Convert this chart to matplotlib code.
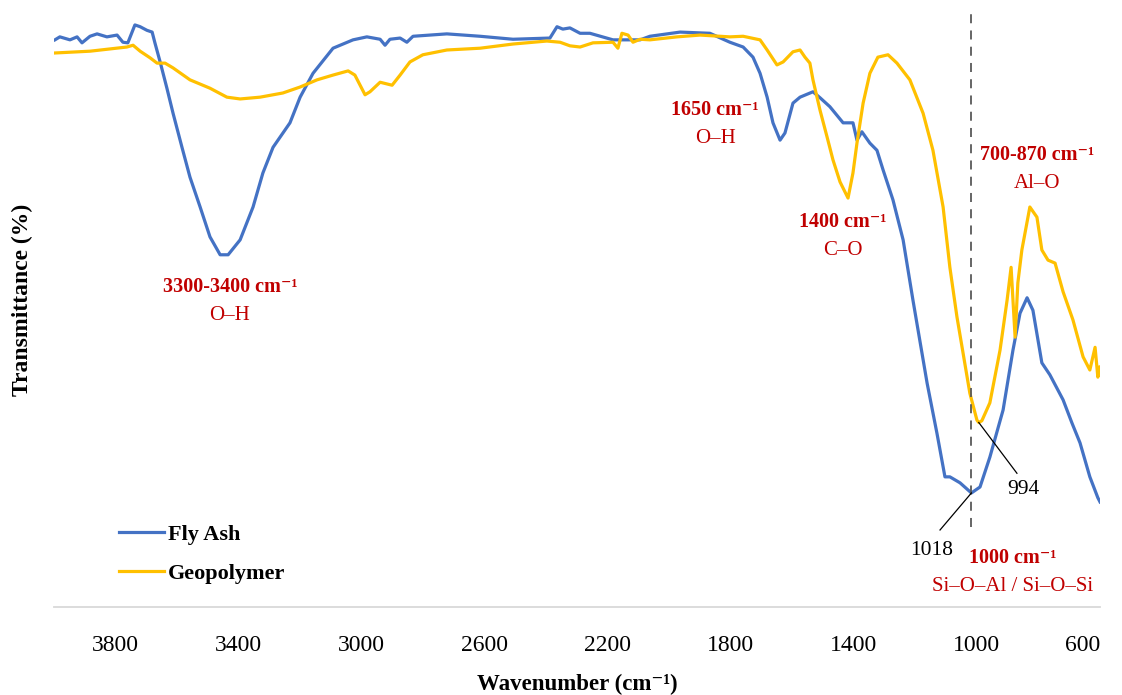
import numpy as np
import matplotlib
matplotlib.use("Agg")
import matplotlib.pyplot as plt

# -------------
# DATA
# -------------
fa_wn = np.array([3997, 3981, 3948, 3925, 3909, 3883, 3860, 3828, 3795, 3776, 3760,
                  3737, 3720, 3698, 3681, 3672, 3655, 3633, 3613, 3584, 3558, 3525,
                  3493, 3460, 3434, 3395, 3353, 3321, 3288, 3233, 3200, 3158, 3093,
                  3028, 2983, 2940, 2924, 2908, 2875, 2853, 2833, 2723, 2615, 2508,
                  2388, 2365, 2346, 2323, 2290, 2258, 2183, 2095, 2063, 1965, 1868,
                  1803, 1760, 1728, 1705, 1682, 1663, 1640, 1624, 1598, 1575, 1533,
                  1510, 1478, 1435, 1403, 1390, 1374, 1348, 1325, 1305, 1273, 1240,
                  1208, 1162, 1130, 1104, 1088, 1055, 1018, 990, 958, 915, 883, 860,
                  837, 818, 789, 763, 720, 691, 665, 633, 607, 600])
fa_t = np.array([95.0, 95.5, 95.0, 95.5, 94.5, 95.6, 96.0, 95.5, 95.8, 94.6, 94.5,
                 97.5, 97.2, 96.6, 96.3, 94.5, 91.3, 86.9, 82.7, 77.0, 72.0, 67.0,
                 62.0, 59.0, 59.0, 61.5, 67.0, 72.7, 77.0, 81.1, 85.4, 89.4, 93.6,
                 95.0, 95.5, 95.1, 94.1, 95.1, 95.3, 94.6, 95.6, 96.0, 95.6, 95.1,
                 95.3, 97.2, 96.8, 97.0, 96.1, 96.1, 95.0, 95.0, 95.6, 96.3, 96.1,
                 94.6, 93.8, 92.1, 89.4, 85.4, 81.1, 78.2, 79.4, 84.4, 85.4, 86.3,
                 85.3, 83.8, 81.1, 81.1, 78.2, 79.6, 77.7, 76.5, 73.2, 68.2, 61.5,
                 51.4, 37.5, 29.1, 21.8, 21.8, 20.8, 19.1, 20.1, 25.1, 33.0, 43.0, 49.2,
                 51.8, 49.7, 40.9, 38.9, 34.7, 30.8, 27.5, 21.8, 18.3, 17.6])

gp_wn = np.array([3997, 3883, 3763, 3743, 3720, 3688, 3665, 3639, 3613, 3558, 3493,
                  3438, 3395, 3330, 3256, 3200, 3145, 3093, 3044, 3022, 2989, 2973,
                  2940, 2901, 2875, 2843, 2801, 2723, 2615, 2508, 2398, 2355, 2323,
                  2290, 2248, 2183, 2167, 2154, 2134, 2118, 2095, 2063, 1975, 1900,
                  1803, 1760, 1705, 1682, 1650, 1630, 1598, 1575, 1559, 1543, 1533,
                  1510, 1487, 1468, 1445, 1419, 1403, 1390, 1370, 1348, 1322, 1289,
                  1260, 1218, 1175, 1143, 1110, 1088, 1065, 1023, 1000, 994, 984, 958,
                  925, 902, 889, 876, 867, 854, 828, 805, 789, 769, 746, 720, 688,
                  655, 633, 616, 607, 600])
gp_t = np.array([92.8, 93.1, 93.8, 94.1, 93.1, 92.0, 91.1, 91.1, 90.3, 88.3, 86.9,
                 85.4, 85.1, 85.4, 86.1, 87.1, 88.3, 89.1, 89.8, 89.1, 85.8, 86.3,
                 87.9, 87.4, 89.1, 91.3, 92.5, 93.3, 93.6, 94.3, 94.8, 94.6, 94.0,
                 93.8, 94.5, 94.6, 93.6, 96.1, 95.8, 94.6, 95.1, 95.0, 95.5, 95.8,
                 95.5, 95.6, 95.0, 93.3, 90.8, 91.3, 93.0, 93.3, 92.1, 91.1, 88.3,
                 83.2, 78.7, 74.9, 71.2, 68.5, 72.7, 77.7, 84.4, 89.4, 92.1, 92.5,
                 91.1, 88.3, 82.7, 76.5, 67.0, 56.9, 48.6, 35.8, 31.3, 30.9, 31.2, 34.2,
                 43.0, 51.4, 56.9, 45.2, 54.3, 59.8, 67.0, 65.3, 59.8, 58.1, 57.6, 52.8,
                 48.1, 41.9, 39.7, 43.5, 38.5, 40.2])

xticks = [3800, 3400, 3000, 2600, 2200, 1800, 1400, 1000, 600]

# peak markers
FA_PEAK, FA_PEAK_T = 1018, 19.1
GP_PEAK, GP_PEAK_T = 994, 30.9

# band annotations: (wavenumber, T, bold label, assignment)
bands = [
    (3428, 53.6, "3300-3400 cm⁻¹", "O–H"),
    (1851, 83.2, "1650 cm⁻¹", "O–H"),
    (1435, 64.5, "1400 cm⁻¹", "C–O"),
    (805, 75.7, "700-870 cm⁻¹", "Al–O"),
    (883, 8.2, "1000 cm⁻¹", "Si–O–Al / Si–O–Si"),
]

# -------------
# STYLE
# -------------
SERIF = ["Liberation Serif", "DejaVu Serif"]
plt.rcParams["font.family"] = SERIF
BLUE = "#4472C4"
GOLD = "#FFC000"
RED = "#C00000"

fig = plt.figure(figsize=(11.22, 6.95), dpi=100)
ax = fig.add_axes([54 / 1122, 88 / 695, 1046 / 1122, 597 / 695])

ax.plot(fa_wn, fa_t, color=BLUE, lw=2.3, label="Fly Ash", solid_joinstyle="round")
ax.plot(gp_wn, gp_t, color=GOLD, lw=2.3, label="Geopolymer", solid_joinstyle="round")

ax.set_xlim(4000, 600)
ax.set_ylim(0, 100)
ax.set_xticks(xticks)
ax.set_xticklabels([str(t) for t in xticks])
ax.set_yticks([])
ax.tick_params(axis="x", length=0, pad=20, labelsize=17)
# last label kept inside the plot area, like the spreadsheet does
ax.get_xticklabels()[-1].set_horizontalalignment("right")

for s in ["top", "right", "left"]:
    ax.spines[s].set_visible(False)
ax.spines["bottom"].set_color("#D9D9D9")
ax.spines["bottom"].set_linewidth(1.3)

# dashed marker through the fly ash minimum
ax.plot([FA_PEAK, FA_PEAK], [13.4, 99.5], color="#595959", lw=1.3, ls=(0, (5, 4)))

# peak labels with leader lines
ax.plot([FA_PEAK, 1120], [FA_PEAK_T, 12.9], color="black", lw=0.9)
ax.text(1146, 9.5, "1018", ha="center", va="center", fontsize=15.5)
ax.plot([GP_PEAK, 870], [GP_PEAK_T, 22.4], color="black", lw=0.9)
ax.text(850, 19.6, "994", ha="center", va="center", fontsize=15.5)

for wn, t, head, grp in bands:
    ax.text(wn, t, head, ha="center", va="center", color=RED,
            fontsize=14.5, fontweight="bold")
    ax.text(wn, t - 4.8, grp, ha="center", va="center", color=RED, fontsize=15)

leg = ax.legend(loc="upper left", bbox_to_anchor=(108 / 1122, 1 - 513 / 695),
                bbox_transform=fig.transFigure, frameon=False, borderpad=0,
                handlelength=2.0, handletextpad=0.2, labelspacing=0.85,
                prop={"family": SERIF, "weight": "bold", "size": 16})

fig.text(577 / 1122, 1 - 684 / 695, "Wavenumber (cm⁻¹)", ha="center", va="center",
         fontsize=16.5, fontweight="bold")
fig.text(22 / 1122, 1 - 300 / 695, "Transmittance (%)", ha="center", va="center",
         rotation=90, fontsize=17, fontweight="bold")

fig.savefig("out.png", dpi=100)
